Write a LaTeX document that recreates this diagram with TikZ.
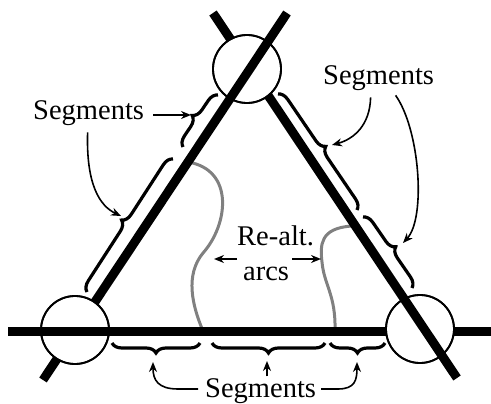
\documentclass[tikz,border=0pt]{standalone}
\usepackage{fontspec}
\setmainfont{Liberation Serif}
\usetikzlibrary{decorations.pathreplacing,arrows.meta}
\begin{document}
\begin{tikzpicture}[x=1pt,y=-1pt,
  bar/.style={line width=9pt},
  ring/.style={circle,draw,line width=1.8pt,minimum size=68pt,inner sep=0pt},
  brc/.style={decorate,decoration={brace,amplitude=10pt},line width=3.2pt},
  lbl/.style={font=\fontsize{28.5}{30}\selectfont,inner sep=0pt},
  conn/.style={line width=1.6pt,-{Stealth[length=10pt,width=8pt]}},
  realt/.style={line width=3pt,draw=black!50}]
\useasboundingbox (0,0) rectangle (491,404);
% main lines
\coordinate (A1) at (43,380); \coordinate (A2) at (287,13);
\coordinate (B1) at (213,13); \coordinate (B2) at (457,378);
\coordinate (H1) at (8,331);  \coordinate (H2) at (491,331);
% re-alt arcs
\draw[realt] (188,162) .. controls (235,170) and (228,225) .. (203,253)
             .. controls (185,275) and (192,305) .. (203,331);
\draw[realt] (352,226) .. controls (320,228) and (320,245) .. (322,262)
             .. controls (324,285) and (336,295) .. (335,331);
\draw[bar] (A1) -- (A2);
\draw[bar] (B1) -- (B2);
\draw[bar] (H1) -- (H2);
% circles
\node[ring,fill=white] (ct) at (247,69) {};
\node[ring,fill=white] (cl) at (75,330) {};
\node[ring,fill=white] (cr) at (420,329) {};
\begin{scope}\clip (ct.center) circle (34pt); \draw[bar] (A1) -- (A2); \end{scope}
\begin{scope}\clip (cr.center) circle (34pt); \draw[bar] (B1) -- (B2); \end{scope}
\begin{scope}\clip (cl.center) circle (34pt); \draw[bar] (H1) -- (H2); \end{scope}
\draw[line width=1.8pt] (ct.center) circle (34pt);
\draw[line width=1.8pt] (cr.center) circle (34pt);
\draw[line width=1.8pt] (cl.center) circle (34pt);
% braces
\draw[brc] (183,147) -- (218,95);
\draw[brc] (87,292) -- (173,159);
\draw[brc] (278,94) -- (357,210);
\draw[brc] (363,217) -- (412,288);
\draw[brc] (200,343) -- (112,343);
\draw[brc] (325,343) -- (212,343);
\draw[brc] (385,343) -- (330,343);
% labels
\node[lbl,anchor=base west] (stl) at (33,120) {Segments};
\node[lbl,anchor=base west] (str) at (323,85) {Segments};
\node[lbl,anchor=base west] (sb) at (205,397.5) {Segments};
\node[lbl,anchor=base west] (ra) at (237,245) {Re-alt.};
\node[lbl,anchor=base west] (rb) at (243,280) {arcs};
% connectors
\coordinate (t1) at (191,115);
\coordinate (t2) at (121,216);
\coordinate (t3) at (332,145);
\coordinate (t4) at (403,243);
\coordinate (t5) at (153,362);
\coordinate (t6) at (267,361);
\coordinate (t7) at (357,362);
\coordinate (t8) at (214,259);
\coordinate (t9) at (321,259);
\coordinate (yb) at (0,389);
\draw[conn] (stl.east |- t1) ++(9,0) -- (t1);
\draw[conn] (stl.south) ++(-1,6) .. controls (86,185) and (100,206) .. (t2);
\draw[conn] (str.south) ++(-8,6) .. controls (370,125) and (354,139) .. (t3);
\draw[conn] (str.south) ++(17,4) .. controls (420,130) and (426,218) .. (t4);
\draw[conn] (sb.west |- yb) ++(-7,0) -- (178,389) .. controls (158,389) and (153,380) .. (t5);
\draw[conn] (sb.north -| t6) ++(0,-2) -- (t6);
\draw[conn] (sb.east |- yb) ++(5,0) -- (338,389) .. controls (355,389) and (357,380) .. (t7);
\draw[conn] (ra.west |- t8) -- (t8);
\draw[conn] (rb.east |- t9) ++(3,0) -- (t9);
\end{tikzpicture}
\end{document}
